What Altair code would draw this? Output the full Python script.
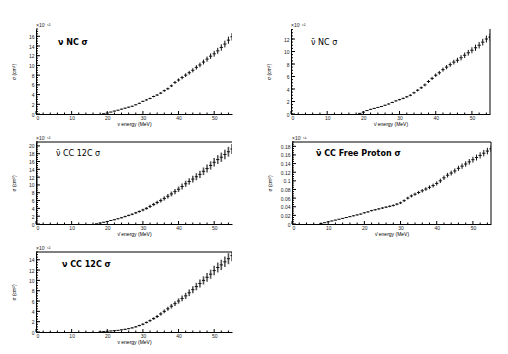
import altair as alt
import pandas as pd

FONT = "Liberation Sans"
TFONT = "DejaVu Sans"

# ---------------- data ----------------
# Panel 1: nu NC sigma
nc_e = list(range(19, 56))
nc_s = [0.05, 0.2, 0.4, 0.6, 0.78, 1.0, 1.2, 1.4, 1.6, 1.9,
        2.2, 2.6, 2.9, 3.2, 3.6, 3.9, 4.3, 4.8, 5.2, 5.8,
        6.5, 7.0, 7.5, 8.0, 8.5, 9.0, 9.6, 10.1, 10.7, 11.3,
        11.9, 12.4, 13.0, 13.7, 14.4, 15.2, 15.9]
nc_err = [0.03, 0.04, 0.05, 0.06, 0.07, 0.08, 0.09, 0.1, 0.1, 0.11,
          0.12, 0.13, 0.14, 0.15, 0.17, 0.18, 0.2, 0.22, 0.24, 0.26,
          0.3, 0.33, 0.35, 0.38, 0.4, 0.43, 0.46, 0.48, 0.5, 0.53,
          0.56, 0.6, 0.63, 0.66, 0.7, 0.74, 0.78]

# Panel 2: anti-nu NC sigma
nb_e = list(range(19, 56))
nb_s = [0.1, 0.3, 0.55, 0.75, 0.9, 1.05, 1.2, 1.4, 1.6, 1.85,
        2.1, 2.3, 2.5, 2.75, 3.0, 3.4, 3.8, 4.2, 4.65, 5.2,
        5.7, 6.2, 6.6, 7.1, 7.5, 7.9, 8.3, 8.6, 9.0, 9.4,
        9.8, 10.2, 10.6, 11.0, 11.5, 12.0, 12.3]
nb_err = [0.03, 0.04, 0.05, 0.06, 0.07, 0.07, 0.08, 0.09, 0.1, 0.1,
          0.11, 0.12, 0.13, 0.14, 0.15, 0.17, 0.18, 0.2, 0.22, 0.24,
          0.26, 0.28, 0.3, 0.32, 0.34, 0.36, 0.38, 0.4, 0.42, 0.44,
          0.46, 0.48, 0.5, 0.52, 0.54, 0.56, 0.58]

# Panel 3: anti-nu CC 12C sigma
cb_e = list(range(17, 56))
cb_s = [0.05, 0.25, 0.45, 0.65, 0.9, 1.1, 1.35, 1.6, 1.9, 2.2,
        2.5, 2.85, 3.2, 3.6, 4.0, 4.5, 5.0, 5.5, 6.0, 6.55,
        7.1, 7.7, 8.3, 8.9, 9.6, 10.3, 10.9, 11.5, 12.1, 12.7,
        13.5, 14.2, 15.0, 15.8, 16.5, 17.1, 17.8, 18.5, 19.2]
cb_err = [0.03, 0.05, 0.07, 0.09, 0.11, 0.13, 0.15, 0.17, 0.19, 0.21,
          0.24, 0.27, 0.3, 0.33, 0.36, 0.4, 0.43, 0.47, 0.5, 0.54,
          0.58, 0.62, 0.66, 0.7, 0.74, 0.78, 0.82, 0.86, 0.9, 0.94,
          0.98, 1.02, 1.06, 1.1, 1.14, 1.18, 1.22, 1.26, 1.3]

# Panel 4: anti-nu CC free proton sigma
fp_e = list(range(8, 56))
fp_s = [0.001, 0.003, 0.005, 0.007, 0.009, 0.011, 0.013, 0.015, 0.017, 0.019,
        0.021, 0.023, 0.026, 0.028, 0.031, 0.033, 0.035, 0.037, 0.039, 0.041,
        0.043, 0.046, 0.049, 0.054, 0.060, 0.065, 0.069, 0.073, 0.077, 0.081,
        0.085, 0.089, 0.094, 0.100, 0.107, 0.113, 0.118, 0.123, 0.129, 0.134,
        0.139, 0.144, 0.149, 0.154, 0.159, 0.164, 0.169, 0.174]
fp_err = [0.0003, 0.0004, 0.0005, 0.0006, 0.0007, 0.0008, 0.0009, 0.001, 0.0011, 0.0012,
          0.0013, 0.0014, 0.0015, 0.0016, 0.0017, 0.0018, 0.0019, 0.002, 0.0021, 0.0022,
          0.0024, 0.0026, 0.0028, 0.003, 0.0032, 0.0034, 0.0036, 0.0038, 0.004, 0.0042,
          0.0044, 0.0046, 0.0048, 0.005, 0.0052, 0.0054, 0.0056, 0.0058, 0.006, 0.0062,
          0.0064, 0.0066, 0.0068, 0.007, 0.0072, 0.0074, 0.0076, 0.0078]

# Panel 5: nu CC 12C sigma
cc_e = list(range(18, 56))
cc_s = [0.02, 0.08, 0.15, 0.2, 0.26, 0.32, 0.42, 0.52, 0.65, 0.8,
        1.0, 1.25, 1.5, 1.85, 2.2, 2.6, 3.0, 3.5, 4.0, 4.5,
        5.0, 5.5, 6.0, 6.5, 7.0, 7.6, 8.2, 8.8, 9.4, 10.0,
        10.6, 11.2, 11.9, 12.5, 13.0, 13.6, 14.2, 14.8]
cc_err = [0.02, 0.03, 0.04, 0.05, 0.06, 0.07, 0.08, 0.09, 0.1, 0.12,
          0.14, 0.16, 0.18, 0.2, 0.23, 0.26, 0.29, 0.32, 0.36, 0.4,
          0.44, 0.48, 0.52, 0.56, 0.6, 0.64, 0.68, 0.72, 0.76, 0.8,
          0.84, 0.88, 0.92, 0.96, 1.0, 1.03, 1.06, 1.1]

x_major = [0, 10, 20, 30, 40, 50]
x_minor = [2, 4, 6, 8, 12, 14, 16, 18, 22, 24, 26, 28, 32, 34, 36, 38,
           42, 44, 46, 48, 52, 54]


def frange(step, n):
    return [round(step * i, 6) for i in range(n)]


def minor_ticks(step, ymax):
    out = []
    i = 0
    while step * i <= ymax:
        out.append(round(step * i, 6))
        i += 1
    return out


def panel(E, S, Err, ymax, ymajor, yminor, title, bold, xtitle, W, H,
          tx, ty, top=False, right=False, barcolor="#111", barw=1.0,
          expo="\u00d710\u207b\u2074\u00b2", ylabfmt="~g"):
    df = pd.DataFrame({"e": E, "s": S, "err": Err})
    xs = alt.Scale(domain=[0, 55], nice=False, zero=False)
    ys = alt.Scale(domain=[0, ymax], nice=False, zero=True)
    yaxis = alt.Axis(values=ymajor, ticks=False, grid=False,
                     labelFontSize=5, labelPadding=2, labelColor="#222",
                     labelFont=FONT, title="\u03c3 (cm\u00b2)", titleFontSize=5,
                     titleFont=FONT, titleFontWeight="normal", titlePadding=10,
                     minExtent=10, maxExtent=10, domainColor="black",
                     format=ylabfmt)
    xaxis = alt.Axis(values=x_major, ticks=False, grid=False,
                     labelFontSize=5, labelPadding=1, labelColor="#222",
                     labelFont=FONT, title=xtitle, titleFontSize=5,
                     titleFont=FONT, titleFontWeight="normal", titlePadding=1,
                     minExtent=6, maxExtent=6, domainColor="black")
    base = alt.Chart(df).transform_calculate(
        lo="datum.s - datum.err", hi="datum.s + datum.err",
        e0="datum.e - 0.45", e1="datum.e + 0.45")
    vbars = base.mark_rule(color=barcolor, strokeWidth=barw, clip=True).encode(
        x=alt.X("e:Q", scale=xs, axis=xaxis),
        y=alt.Y("lo:Q", scale=ys, axis=yaxis),
        y2="hi:Q")
    hbars = base.mark_rule(color="#111", strokeWidth=1, clip=True).encode(
        x=alt.X("e0:Q", scale=xs, axis=xaxis), x2="e1:Q",
        y=alt.Y("s:Q", scale=ys, axis=yaxis))
    ymaj = alt.Chart(pd.DataFrame({"v": ymajor})).mark_rule(color="black").encode(
        y=alt.Y("v:Q", scale=ys, axis=yaxis), x=alt.value(0), x2=alt.value(4))
    ymin = alt.Chart(pd.DataFrame({"v": yminor})).mark_rule(color="black").encode(
        y=alt.Y("v:Q", scale=ys, axis=yaxis), x=alt.value(0), x2=alt.value(2))
    xmaj = alt.Chart(pd.DataFrame({"v": x_major})).mark_rule(color="black").encode(
        x=alt.X("v:Q", scale=xs, axis=xaxis), y=alt.value(H), y2=alt.value(H - 3))
    xmin = alt.Chart(pd.DataFrame({"v": x_minor})).mark_rule(color="black").encode(
        x=alt.X("v:Q", scale=xs, axis=xaxis), y=alt.value(H), y2=alt.value(H - 1.5))
    ttl = alt.Chart(pd.DataFrame({"t": [title]})).mark_text(
        align="left", baseline="middle", fontSize=8, font=TFONT,
        fontWeight="bold" if bold else "normal", color="black").encode(
        text="t:N", x=alt.value(tx), y=alt.value(ty))
    exp = alt.Chart(pd.DataFrame({"t": [expo]})).mark_text(
        align="left", baseline="bottom", fontSize=5, font=FONT,
        color="#222").encode(text="t:N", x=alt.value(0), y=alt.value(-1))
    layers = [vbars, hbars, ymaj, ymin, xmaj, xmin, ttl, exp]
    if top:
        layers.append(alt.Chart(pd.DataFrame({"t": [0]})).mark_rule(
            color="black", strokeWidth=1).encode(
            x=alt.value(0), x2=alt.value(W), y=alt.value(0)))
    if right:
        layers.append(alt.Chart(pd.DataFrame({"t": [0]})).mark_rule(
            color="black", strokeWidth=1).encode(
            x=alt.value(W), y=alt.value(0), y2=alt.value(H)))
    return alt.layer(*layers).properties(width=W, height=H)


NU = "\u03bd"
NUB = "\u03bd\u0304"
SIG = "\u03c3"

p1 = panel(nc_e, nc_s, nc_err, 17.5, frange(2, 9), minor_ticks(0.5, 17.5),
           f"{NU} NC {SIG}", True, f"{NU} energy (MeV)", 196, 85, 22, 14)
p2 = panel(nb_e, nb_s, nb_err, 13.6, frange(2, 7), minor_ticks(0.5, 13.6),
           f"{NUB} NC {SIG}", False, f"{NUB} energy (MeV)", 199, 85, 20, 14,
           right=True)
p3 = panel(cb_e, cb_s, cb_err, 21, frange(2, 11), minor_ticks(0.5, 21),
           f"{NUB} CC 12C {SIG}", False, f"{NUB} energy (MeV)", 196, 82, 20, 12,
           top=True, barcolor="#555", barw=1.6)
p4 = panel(fp_e, fp_s, fp_err, 0.19, frange(0.02, 10), minor_ticks(0.005, 0.19),
           f"{NUB} CC Free Proton {SIG}", True, f"{NUB} energy (MeV)", 199, 82, 24, 12,
           top=True, right=True, expo="\u00d710\u207b\u2074\u00b9")
p5 = panel(cc_e, cc_s, cc_err, 15.5, frange(2, 8), minor_ticks(0.5, 15.5),
           f"{NU} CC 12C {SIG}", True, f"{NU} energy (MeV)", 196, 80, 26, 13,
           top=True, barcolor="#555", barw=1.6)

row1 = alt.hconcat(p1, p2, spacing=34)
row2 = alt.hconcat(p3, p4, spacing=34)

chart = alt.vconcat(row1, row2, p5, spacing=10).properties(
    padding={"left": 3, "top": 15, "right": 5, "bottom": 5}
).configure_view(stroke=None)

chart.save("out.html", embed_options={"renderer": "svg", "actions": False})
